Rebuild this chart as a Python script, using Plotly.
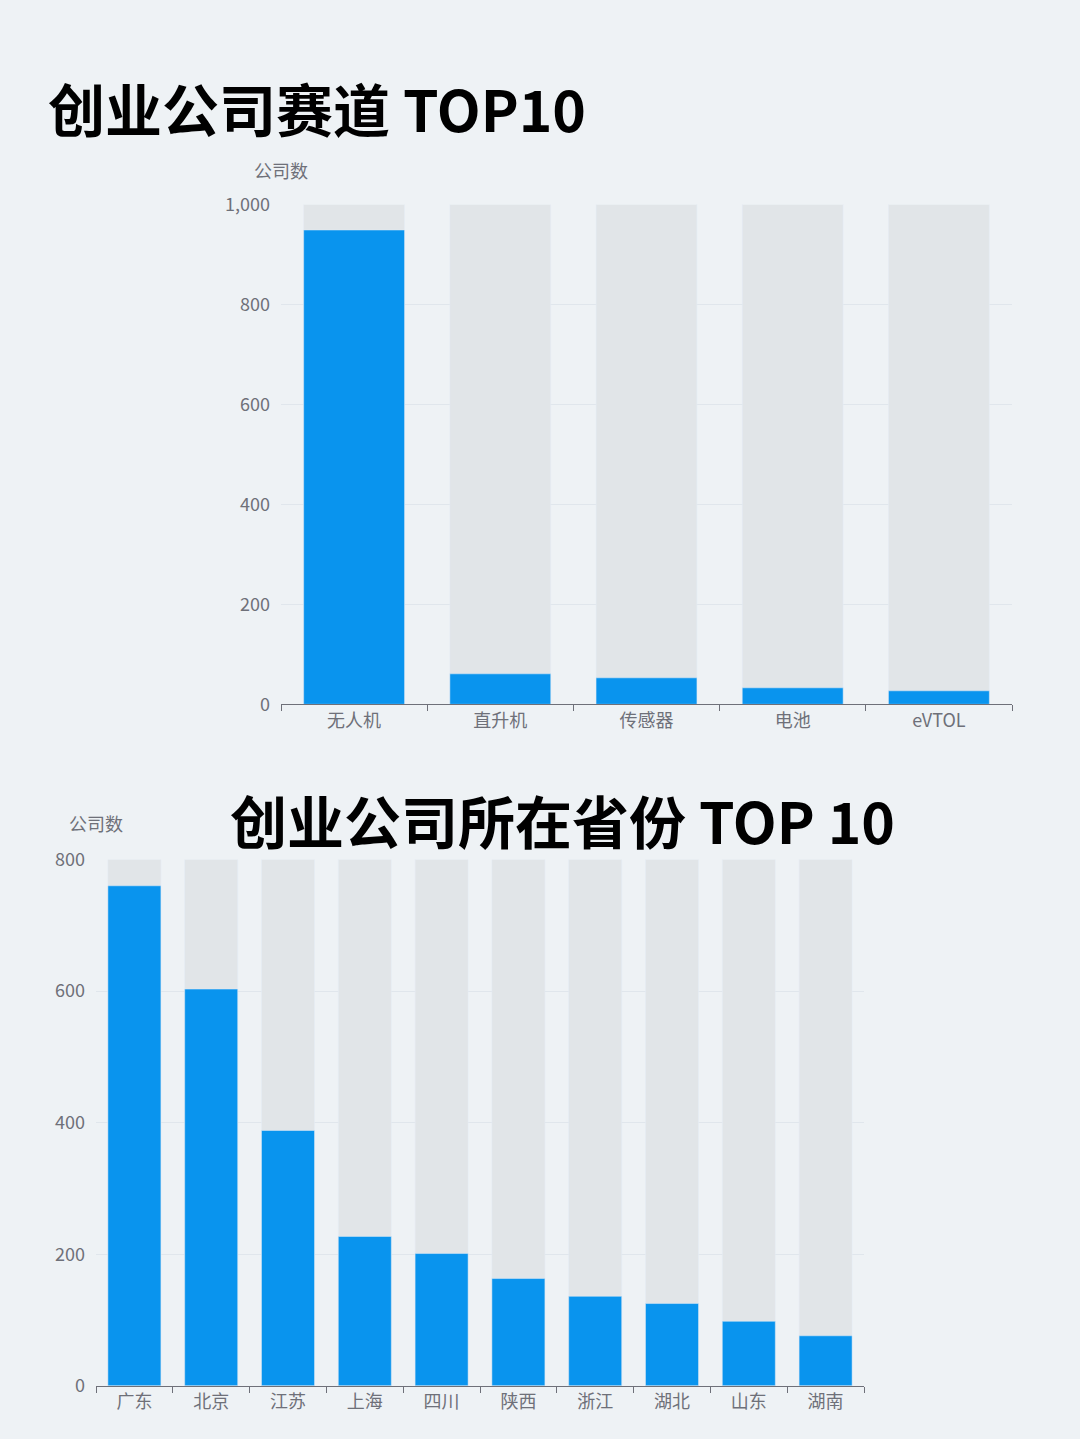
import plotly.graph_objects as go

# Data
tracks = ["无人机", "直升机", "传感器", "电池", "eVTOL"]
track_counts = [949, 61, 53, 33, 27]
track_max = 1000

provinces = ["广东", "北京", "江苏", "上海", "四川", "陕西", "浙江", "湖北", "山东", "湖南"]
province_counts = [760, 603, 388, 227, 201, 163, 136, 125, 98, 76]
province_max = 800

title1 = "创业公司赛道 TOP10"
title2 = "创业公司所在省份 TOP 10"
y_title = "公司数"

W, H = 1080, 1439
BG = "#eef2f5"
BLUE = "#0994ee"
SHADOW = "#e1e5e8"
AXIS = "#6e7079"
GRID = "#e0e6ec"
FONT = "Noto Sans CJK SC"

fig = go.Figure()

fig.add_trace(go.Bar(x=tracks, y=[track_max] * len(tracks), marker_color=SHADOW,
                     width=0.69, xaxis="x", yaxis="y", hoverinfo="skip", showlegend=False))
fig.add_trace(go.Bar(x=tracks, y=track_counts, marker_color=BLUE, width=0.69,
                     xaxis="x", yaxis="y", showlegend=False))
fig.add_trace(go.Bar(x=provinces, y=[province_max] * len(provinces), marker_color=SHADOW,
                     width=0.69, xaxis="x2", yaxis="y2", hoverinfo="skip", showlegend=False))
fig.add_trace(go.Bar(x=provinces, y=province_counts, marker_color=BLUE, width=0.69,
                     xaxis="x2", yaxis="y2", showlegend=False))

def px_x(x):
    return x / W

def px_y(y):
    return 1 - y / H

xcommon = dict(type="category", showline=True, linecolor=AXIS, linewidth=1,
               ticks="outside", tickson="boundaries", ticklen=6, tickcolor=AXIS,
               tickfont=dict(family=FONT, size=18, color=AXIS), showgrid=False,
               zeroline=False, fixedrange=True)
ycommon = dict(showline=False, showgrid=True, gridcolor=GRID, gridwidth=1,
               zeroline=False, tickfont=dict(family=FONT, size=18, color=AXIS),
               tickformat=",d", ticks="", ticklabelstandoff=10)

fig.update_layout(
    width=W, height=H,
    margin=dict(l=0, r=0, t=0, b=0),
    paper_bgcolor=BG, plot_bgcolor=BG,
    barmode="overlay",
    bargap=0.31,
    xaxis=dict(domain=[px_x(281), px_x(1012)], anchor="y", range=[-0.5, 4.5], **xcommon),
    yaxis=dict(domain=[px_y(702), px_y(193)], anchor="x", range=[0, 1000], dtick=200, **ycommon),
    xaxis2=dict(domain=[px_x(96), px_x(864)], anchor="y2", range=[-0.5, 9.5], **xcommon),
    yaxis2=dict(domain=[px_y(1396), px_y(860)], anchor="x2", range=[0, 800], dtick=200, **ycommon),
    annotations=[
        dict(text=f"<b>{title1}</b>", x=px_x(46), y=px_y(94), xref="paper", yref="paper",
             xanchor="left", yanchor="middle", showarrow=False,
             font=dict(family=FONT, size=57, color="#000000")),
        dict(text=f"<b>{title2}</b>", x=px_x(562), y=px_y(819), xref="paper", yref="paper",
             xanchor="center", yanchor="middle", showarrow=False,
             font=dict(family=FONT, size=57, color="#000000")),
        dict(text=y_title, x=px_x(281), y=px_y(158), xref="paper", yref="paper",
             xanchor="center", yanchor="middle", showarrow=False,
             font=dict(family=FONT, size=18, color=AXIS)),
        dict(text=y_title, x=px_x(96), y=px_y(823), xref="paper", yref="paper",
             xanchor="center", yanchor="middle", showarrow=False,
             font=dict(family=FONT, size=18, color=AXIS)),
    ],
)

post = "document.body.style.margin='0';document.body.style.background='#eef2f5';"

fig.write_html("out.html", config={"displayModeBar": False}, post_script=post)
